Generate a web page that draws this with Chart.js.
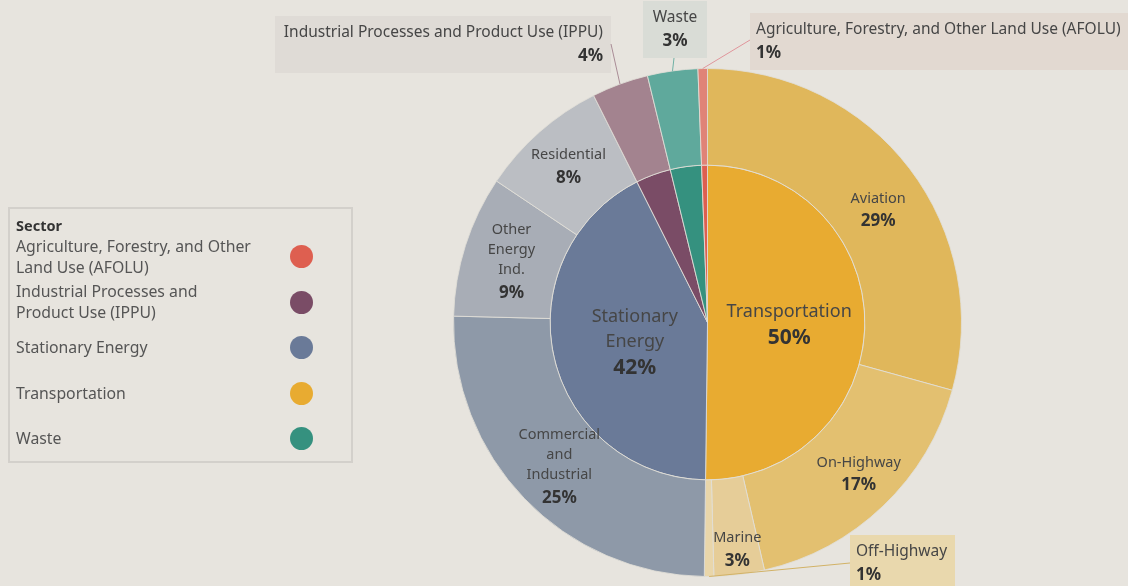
<!DOCTYPE html>
<html>
<head>
<meta charset="utf-8">
<script src="https://cdn.jsdelivr.net/npm/chart.js@4"></script>
<style>
  html, body { margin: 0; padding: 0; background: #e7e4de; }
  body { width: 1128px; height: 586px; position: relative; overflow: hidden; font-family: "Noto Sans", sans-serif; }
  #pie { position: absolute; left: 0; top: 0; }
  #legend {
    position: absolute; left: 8px; top: 207px; width: 341px; height: 252px;
    border: 2px solid #d3d0cb; box-sizing: content-box;
  }
  #legend .title { position: absolute; left: 6px; top: 6px; font-size: 14.5px; font-weight: bold; color: #333; }
  #legend .row { position: absolute; left: 6px; width: 330px; height: 45px; display: flex; align-items: center; }
  #legend .txt { width: 240px; margin-right: 34px; font-size: 15.8px; line-height: 21px; color: #555; }
  #legend .dot { width: 23px; height: 23px; border-radius: 50%; }
</style>
</head>
<body>
<canvas id="pie" width="1128" height="586"></canvas>
<div id="legend"><div class="title">Sector</div></div>
<script>
// inner ring: sectors
const sectors = ['Transportation', 'Stationary Energy', 'Industrial Processes and Product Use (IPPU)', 'Waste', 'Agriculture, Forestry, and Other Land Use (AFOLU)'];
const sectorShares = [50.2, 42.4, 3.6, 3.2, 0.6];
const sectorColors = ['#e8ab31', '#6a7a98', '#7a4c66', '#35917f', '#de5f50'];
const sectorLabels = ['Transportation', 'Stationary\nEnergy', null, null, null];

// outer ring: sub-sectors
const subsectors = ['Aviation', 'On-Highway', 'Marine', 'Off-Highway', 'Commercial and Industrial', 'Other Energy Ind.', 'Residential', 'Industrial Processes and Product Use (IPPU)', 'Waste', 'Agriculture, Forestry, and Other Land Use (AFOLU)'];
const subsectorShares = [29.3, 17.1, 3.2, 0.6, 25.2, 9.0, 8.2, 3.6, 3.2, 0.6];
const subsectorColors = ['#e0b75b', '#e3c070', '#e6cd98', '#e9d6aa', '#8e99a8', '#a8adb6', '#bbbec3', '#a3838f', '#5fa99c', '#e08377'];
const subsectorLabels = ['Aviation', 'On-Highway', 'Marine', null, 'Commercial\nand\nIndustrial', 'Other\nEnergy\nInd.', 'Residential', null, null, null];

const legendOrder = ['Agriculture, Forestry, and Other Land Use (AFOLU)', 'Industrial Processes and Product Use (IPPU)', 'Stationary Energy', 'Transportation', 'Waste'];

// small shifts of in-slice labels away from the slice centroid
const labelNudge = { 'Aviation': [7, 11], 'On-Highway': [9, 2], 'Marine': [4, 22], 'Residential': [-3, -3], 'Transportation': [3, 1], 'Stationary\nEnergy': [4, 1] };

// boxed call-outs for the thin slices (outer ring)
const callouts = {
  'Industrial Processes and Product Use (IPPU)': { x: 275, y: 16, w: 336, h: 57, align: 'right', fill: '#dfdbd6', line: '#a98c96', ax: 611, ay: 44 },
  'Waste': { x: 643, y: 1, w: 64, h: 57, align: 'center', fill: '#d9dcd6', line: '#6fb0a4', ax: 674, ay: 58 },
  'Agriculture, Forestry, and Other Land Use (AFOLU)': { x: 750, y: 13, w: 380, h: 57, align: 'left', fill: '#e2d9d1', line: '#e0959b', ax: 750, ay: 40 },
  'Off-Highway': { x: 850, y: 535, w: 105, h: 52, align: 'left', fill: '#e9d8ad', line: '#d2b266', ax: 850, ay: 563 }
};

const FONT = '"Noto Sans", sans-serif';

const labelPlugin = {
  id: 'sliceLabels',
  afterDatasetsDraw(chart) {
    const ctx = chart.ctx;
    ctx.save();
    chart.data.datasets.forEach((ds, di) => {
      const meta = chart.getDatasetMeta(di);
      const inner = di === 1;
      meta.data.forEach((arc, i) => {
        const pct = Math.round(ds.data[i]) + '%';
        const text = ds.labelText[i];
        if (text) {
          const p = arc.tooltipPosition();
          const nudge = labelNudge[ds.labels[i]] || labelNudge[text] || [0, 0];
          const cx = p.x + nudge[0];
          const lines = text.split('\n');
          const nameSize = inner ? 18 : 14.5;
          const pctSize = inner ? 21 : 17;
          const lh = inner ? 25 : 20;
          const pctGap = inner ? 26 : 23;
          const total = (lines.length - 1) * lh + pctGap;
          let y = p.y + nudge[1] - total / 2 + 1;
          ctx.textAlign = 'center';
          ctx.textBaseline = 'middle';
          ctx.fillStyle = '#464646';
          ctx.font = nameSize + 'px ' + FONT;
          lines.forEach((l, k) => { ctx.fillText(l, cx, y); if (k < lines.length - 1) y += lh; });
          ctx.fillStyle = '#333';
          ctx.font = 'bold ' + pctSize + 'px ' + FONT;
          ctx.fillText(pct, cx, y + pctGap);
        }
        const c = !inner && callouts[ds.labels[i]];
        if (c) {
          const a = arc.getProps(['x', 'y', 'startAngle', 'endAngle', 'outerRadius']);
          const mid = (a.startAngle + a.endAngle) / 2;
          const ex = a.x + Math.cos(mid) * a.outerRadius;
          const ey = a.y + Math.sin(mid) * a.outerRadius;
          ctx.fillStyle = c.fill;
          ctx.fillRect(c.x, c.y, c.w, c.h);
          ctx.strokeStyle = c.line;
          ctx.lineWidth = 1;
          ctx.beginPath();
          ctx.moveTo(c.ax, c.ay);
          ctx.lineTo(ex, ey);
          ctx.stroke();
          let tx = c.x + 6;
          if (c.align === 'right') tx = c.x + c.w - 8;
          if (c.align === 'center') tx = c.x + c.w / 2;
          ctx.textAlign = c.align;
          ctx.textBaseline = 'middle';
          ctx.fillStyle = '#464646';
          ctx.font = '15.5px ' + FONT;
          ctx.fillText(ds.labels[i], tx, c.y + 17);
          ctx.fillStyle = '#333';
          ctx.font = 'bold 17px ' + FONT;
          ctx.fillText(pct, tx, c.y + 40);
        }
      });
    });
    ctx.restore();
  }
};

new Chart(document.getElementById('pie').getContext('2d'), {
  type: 'doughnut',
  data: {
    labels: subsectors,
    datasets: [
      {
        data: subsectorShares,
        labels: subsectors,
        labelText: subsectorLabels,
        backgroundColor: subsectorColors,
        borderColor: 'rgba(225,222,215,0.85)',
        borderWidth: 1,
        weight: 97
      },
      {
        data: sectorShares,
        labels: sectors,
        labelText: sectorLabels,
        backgroundColor: sectorColors,
        borderColor: 'rgba(225,222,215,0.85)',
        borderWidth: 1,
        weight: 158
      }
    ]
  },
  options: {
    responsive: false,
    animation: false,
    cutout: 0,
    layout: { padding: { left: 453, right: 166, top: 68, bottom: 9 } },
    plugins: { legend: { display: false }, tooltip: { enabled: false } }
  },
  plugins: [labelPlugin]
});

// legend
const legend = document.getElementById('legend');
legendOrder.forEach((name, i) => {
  const row = document.createElement('div');
  row.className = 'row';
  row.style.top = (25 + i * 45.5) + 'px';
  const txt = document.createElement('div');
  txt.className = 'txt';
  txt.textContent = name;
  const dot = document.createElement('div');
  dot.className = 'dot';
  dot.style.background = sectorColors[sectors.indexOf(name)];
  row.appendChild(txt);
  row.appendChild(dot);
  legend.appendChild(row);
});
</script>
</body>
</html>
